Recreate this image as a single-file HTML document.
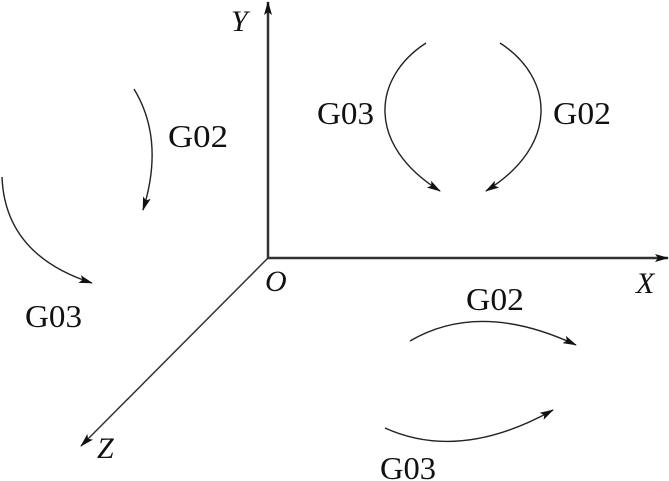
<!DOCTYPE html>
<html><head><meta charset="utf-8"><style>html,body{margin:0;padding:0;background:#fff}svg{display:block}</style></head>
<body>
<svg width="669" height="481" viewBox="0 0 669 481" xmlns="http://www.w3.org/2000/svg">
<defs>
<marker id="a" markerWidth="14" markerHeight="8" refX="13" refY="4" orient="auto" markerUnits="userSpaceOnUse">
<path d="M0,0 L14,4 L0,8 L3,4 Z" fill="#111"/>
</marker>
</defs>
<g stroke="#333" fill="none">
<line x1="268" y1="259" x2="268" y2="2" stroke-width="2.5" marker-end="url(#a)"/>
<line x1="267" y1="258" x2="668" y2="258" stroke-width="2.5" marker-end="url(#a)"/>
<line x1="268" y1="258" x2="81" y2="446" stroke-width="1.5" marker-end="url(#a)"/>
</g>
<g stroke="#222" stroke-width="1.4" fill="none" marker-end="url(#a)">
<path d="M426,43 C372,78 366,145 440,191"/>
<path d="M500,43 C554,78 560,145 486,191"/>
<path d="M134,89 Q165,140 143,210"/>
<path d="M2,177 Q5,255 92,283"/>
<path d="M410,341 Q480,300 576,345"/>
<path d="M385,428 Q460,462 553,410"/>
</g>
<g font-family="'Liberation Serif', serif" font-size="32" fill="#111">
<text x="168" y="147" textLength="60" lengthAdjust="spacingAndGlyphs">G02</text>
<text x="25" y="327" textLength="57" lengthAdjust="spacingAndGlyphs">G03</text>
<text x="317" y="124" textLength="57" lengthAdjust="spacingAndGlyphs">G03</text>
<text x="553" y="124" textLength="58" lengthAdjust="spacingAndGlyphs">G02</text>
<text x="466" y="310" textLength="58" lengthAdjust="spacingAndGlyphs">G02</text>
<text x="380" y="479" textLength="56" lengthAdjust="spacingAndGlyphs">G03</text>
<g font-style="italic" font-size="30">
<text x="231" y="31">Y</text>
<text x="265" y="291">O</text>
<text x="636" y="293">X</text>
<text x="97" y="458">Z</text>
</g>
</g>
</svg>
</body></html>
